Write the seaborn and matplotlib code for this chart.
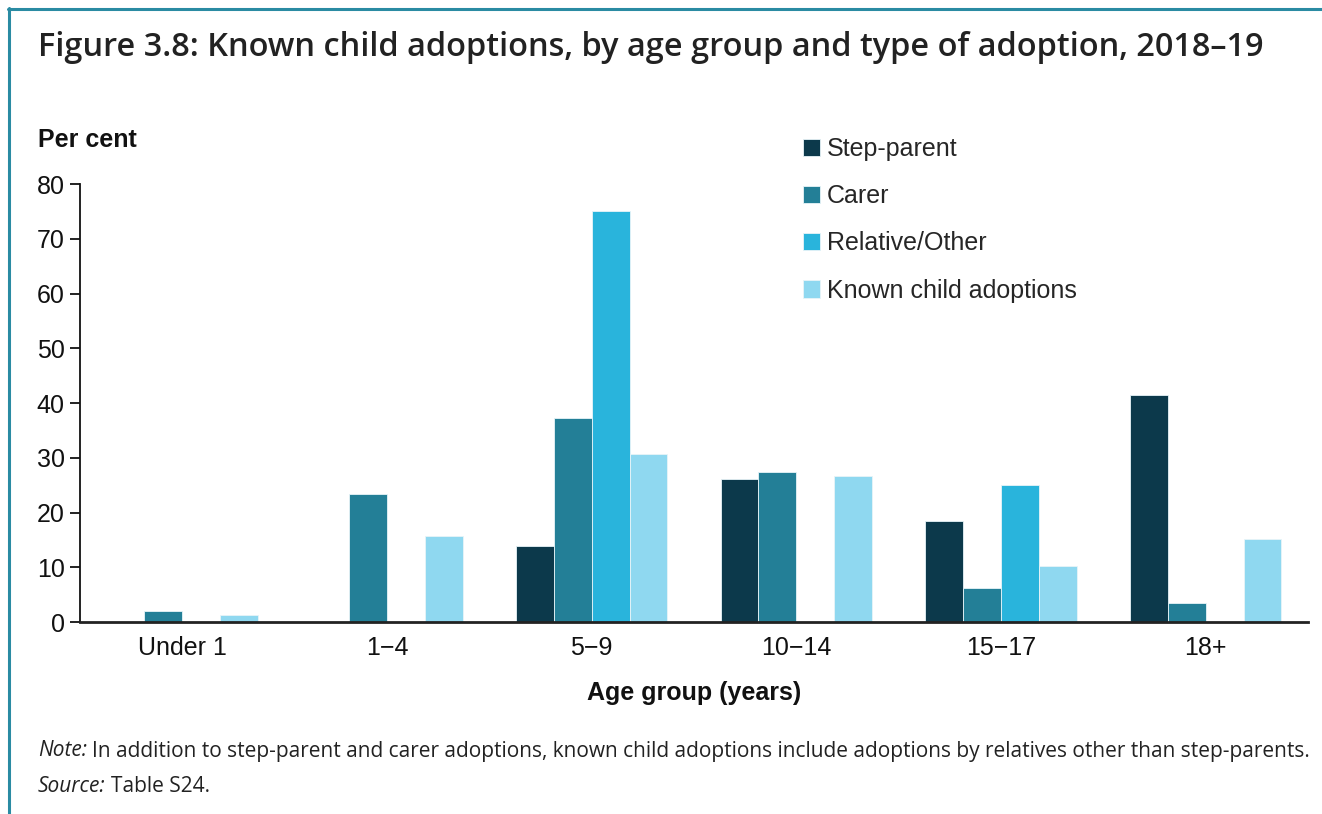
import numpy as np
import pandas as pd
import matplotlib
matplotlib.use("Agg")
import matplotlib.pyplot as plt
from matplotlib.lines import Line2D
import seaborn as sns

# ---- data ----
age_groups = ["Under 1", "1\u22124", "5\u22129", "10\u221214", "15\u221217", "18+"]
series = ["Step-parent", "Carer", "Relative/Other", "Known child adoptions"]
step_parent = [np.nan, np.nan, 13.9, 26.1, 18.4, 41.5]
carer = [2.1, 23.3, 37.3, 27.4, 6.2, 3.4]
relative_other = [np.nan, np.nan, 75.0, np.nan, 25.0, np.nan]
known_child = [1.3, 15.7, 30.7, 26.6, 10.3, 15.1]
y_ticks = [0, 10, 20, 30, 40, 50, 60, 70, 80]

colors = ["#0c394b", "#237f97", "#29b4dc", "#8fd8f0"]

rows = []
for name, vals in zip(series, [step_parent, carer, relative_other, known_child]):
    for g, v in zip(age_groups, vals):
        rows.append({"Age group": g, "Type": name, "Value": v})
df = pd.DataFrame(rows)

sns.set_theme(style="white")
plt.rcParams["font.family"] = ["Liberation Sans", "DejaVu Sans"]

W, H = 1322, 814
fig = plt.figure(figsize=(W / 100, H / 100), dpi=100)
ax = fig.add_axes([80 / W, 1 - 622 / H, (1308 - 80) / W, (622 - 184) / H])

sns.barplot(data=df, x="Age group", y="Value", hue="Type", order=age_groups,
            hue_order=series, palette=colors, errorbar=None, width=0.74,
            gap=0, ax=ax, edgecolor="#e8f4f8", linewidth=0.6, saturation=1)

ax.set_xlim(-0.5, 5.5)
ax.set_ylim(0, 80)
ax.set_yticks(y_ticks)
ax.set_yticklabels([str(t) for t in y_ticks], fontsize=18, color="#111111")
ax.tick_params(axis="y", direction="out", length=7, width=1.3, color="#111111", pad=4, left=True)
ax.tick_params(axis="x", length=0, labelsize=18, pad=10, colors="#111111")
for s in ["top", "right"]:
    ax.spines[s].set_visible(False)
ax.spines["left"].set_color("#111111")
ax.spines["left"].set_linewidth(1.3)
ax.spines["bottom"].set_color("#222222")
ax.spines["bottom"].set_linewidth(2.0)
ax.set_ylabel("")
ax.set_xlabel("Age group (years)", fontsize=18, fontweight="bold", labelpad=15, color="#111111")
ax.grid(False)

# legend
handles, labels = ax.get_legend_handles_labels()
ax.legend_.remove()
fig.legend(handles, labels, loc="upper left", bbox_to_anchor=(803 / W, 1 - 137 / H),
           bbox_transform=fig.transFigure, frameon=False, fontsize=18,
           handlelength=0.68, handleheight=0.68, handletextpad=0.28,
           labelspacing=0.93, borderpad=0, borderaxespad=0)

# "Per cent" label
fig.text(38 / W, 1 - 140 / H, "Per cent", fontsize=18, fontweight="bold",
         va="center", ha="left", color="#111111")

# title
fig.text(38 / W, 1 - 48 / H, "Figure 3.8: Known child adoptions, by age group and type of adoption, 2018\u201319",
         fontsize=23.4, fontweight=600, family=["Open Sans", "DejaVu Sans"],
         va="center", ha="left", color="#222222")

# note / source
renderer = fig.canvas.get_renderer()
open_sans = ["Open Sans", "DejaVu Sans"]


def pair(y, lead, rest):
    t1 = fig.text(38 / W, 1 - y / H, lead, fontsize=15, style="italic",
                  family=open_sans, va="center", ha="left", color="#222222")
    bb = t1.get_window_extent(renderer=renderer)
    fig.text(bb.x1 / W + 5 / W, 1 - y / H, rest, fontsize=15,
             family=open_sans, va="center", ha="left", color="#222222")


pair(751, "Note:", "In addition to step-parent and carer adoptions, known child adoptions include adoptions by relatives other than step-parents.")
pair(786, "Source:", "Table S24.")

# border lines
border = "#2a8ba3"
fig.add_artist(Line2D([8 / W, 1.0], [1 - 9 / H, 1 - 9 / H], color=border, lw=2.2, transform=fig.transFigure))
fig.add_artist(Line2D([9 / W, 9 / W], [0, 1 - 8 / H], color=border, lw=2.2, transform=fig.transFigure))

fig.savefig("out.png", dpi=100)
